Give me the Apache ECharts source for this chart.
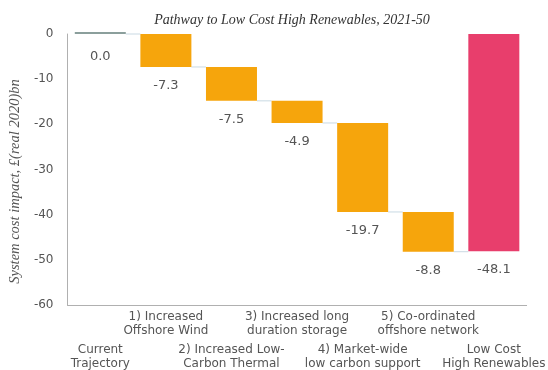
<!DOCTYPE html>
<html lang="en">
<head>
    <meta charset="UTF-8">
    <title>Pathway to Low Cost High Renewables</title>
    <script src="https://cdn.jsdelivr.net/npm/echarts@6/dist/echarts.min.js"></script>
</head>
<body style="margin:0;background:#fff;">
<div id="chart" style="width:548px;height:370px;"></div>
<script>
    var categories = ['Current\nTrajectory', '1) Increased\nOffshore Wind', '2) Increased Low-\nCarbon Thermal',
        '3) Increased long\nduration storage', '4) Market-wide\nlow carbon support',
        '5) Co-ordinated\noffshore network', 'Low Cost\nHigh Renewables'];
    var steps = [0.0, -7.3, -7.5, -4.9, -19.7, -8.8];
    var total = -48.1;
    var colors = ['#8b9f9c', '#f6a50c', '#f6a50c', '#f6a50c', '#f6a50c', '#f6a50c', '#e83e6c'];

    // waterfall: invisible base + visible change
    var bases = [], deltas = [], levels = [];
    var run = 0;
    steps.forEach(function (v, i) {
        bases.push(i === 0 ? 0 : run);
        deltas.push(v);
        run = Math.round((run + v) * 10) / 10;
        levels.push([i, run]);
    });
    bases.push(0);
    deltas.push(total);

    var chart = echarts.init(document.getElementById('chart'));
    var option = {
        animation: false,
        title: {
            text: 'Pathway to Low Cost High Renewables, 2021-50',
            left: 287, top: 8, textAlign: 'center',
            textStyle: {fontFamily: 'Liberation Serif', fontStyle: 'italic', fontWeight: 'normal', fontSize: 14, color: '#333'}
        },
        grid: {left: 65, right: 17, top: 34, bottom: 62},
        xAxis: {
            type: 'category',
            data: categories,
            axisLine: {onZero: false, lineStyle: {color: '#b0b0b0'}},
            axisTick: {show: false},
            axisLabel: {
                interval: 0, margin: 5, color: '#555', fontSize: 12, fontFamily: 'DejaVu Sans',
                formatter: function (v, i) {
                    var lines = v.split('\n').map(function (s) { return '{t|' + s + '}'; }).join('\n');
                    return i % 2 === 0 ? '{gap| }\n' + lines : lines;
                },
                rich: {
                    t: {lineHeight: 14, fontSize: 12, color: '#555', fontFamily: 'DejaVu Sans'},
                    gap: {lineHeight: 33, fontSize: 12}
                }
            }
        },
        yAxis: {
            type: 'value', min: -60, max: 0, interval: 10,
            name: 'System cost impact, £(real 2020)bn',
            nameLocation: 'middle', nameGap: 36,
            nameTextStyle: {fontFamily: 'Liberation Serif', fontStyle: 'italic', fontSize: 14.5, color: '#555', padding: [0, 24, 0, 0]},
            axisLine: {show: true, lineStyle: {color: '#b0b0b0'}},
            axisTick: {show: false},
            splitLine: {show: false},
            axisLabel: {color: '#555', fontSize: 12, fontFamily: 'DejaVu Sans', margin: 14}
        },
        series: [{
            type: 'bar', stack: 'w', barWidth: 51, silent: true,
            itemStyle: {color: 'transparent'},
            data: bases
        }, {
            type: 'bar', stack: 'w', barWidth: 51, barMinHeight: 2, clip: false,
            data: deltas.map(function (v, i) {
                return {
                    value: v,
                    itemStyle: {color: colors[i]},
                    label: {distance: i === 0 ? 16 : 12}
                };
            }),
            label: {
                show: true, position: 'bottom', color: '#555', fontSize: 13, fontFamily: 'DejaVu Sans',
                formatter: function (p) { return p.value.toFixed(1); }
            }
        }, {
            type: 'custom', silent: true, z: 1,
            data: levels,
            renderItem: function (params, api) {
                var a = api.coord([api.value(0), api.value(1)]);
                var b = api.coord([api.value(0) + 1, api.value(1)]);
                return {
                    type: 'line',
                    shape: {x1: a[0] + 25.5, y1: a[1], x2: b[0] - 25.5, y2: b[1]},
                    style: {stroke: '#c9d9e3', lineWidth: 1}
                };
            }
        }]
    };
    chart.setOption(option);
</script>
</body>
</html>
